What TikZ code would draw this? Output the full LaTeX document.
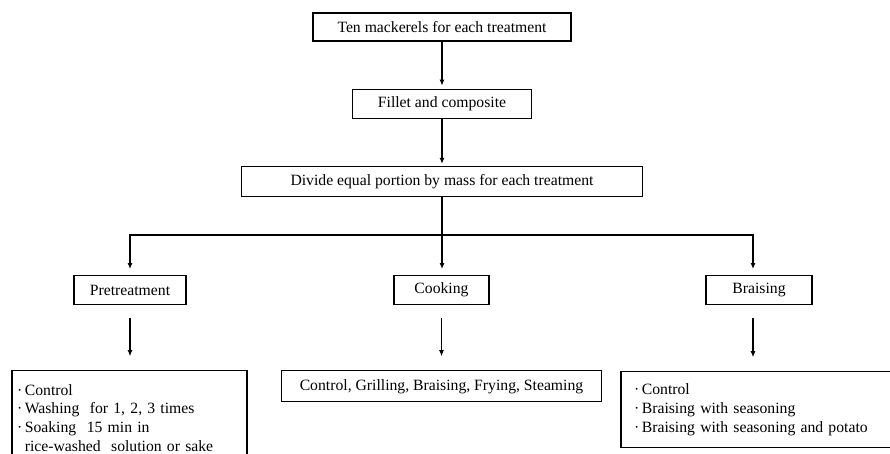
\documentclass[tikz,border=0pt]{standalone}
\usepackage{fontspec}
\setmainfont{Liberation Serif}
\usetikzlibrary{positioning,arrows.meta}

\tikzset{
	box/.style={draw, line width=1.2pt, inner sep=0pt, minimum height=29pt,
		font=\fontsize{15.7}{18.7}\selectfont},
	listbox/.style={box, align=left, inner ysep=0pt},
	arr/.style={line width=1.1pt, -{Latex[length=6pt,width=5pt]}},
	wire/.style={line width=1.1pt}
}

\begin{document}
\begin{tikzpicture}[x=1pt,y=1pt]
	\useasboundingbox (0,0) rectangle (890,-454);
	\clip (0,0) rectangle (890,-454);
	% Nodes
	% Preparation of the fish
	\node[box, minimum width=258pt, minimum height=28pt] (ten) at (442,-27) {Ten mackerels for each treatment};
	\node[box, minimum width=179pt, below=47pt of ten] (fillet) {Fillet and composite};
	\node[box, minimum width=401pt, minimum height=30pt, below=47pt of fillet] (divide) {Divide equal portion by mass for each treatment};
	% Branch point
	\coordinate[below=38pt of divide] (split);
	% Treatments
	\node[box, minimum width=112pt, below=78pt of divide, xshift=-312pt] (pre) {Pretreatment};
	\node[box, minimum width=95pt, below=78pt of divide, xshift=-0.5pt] (cook) {Cooking};
	\node[box, minimum width=106pt, below=78pt of divide, xshift=317pt] (brai) {Braising};
	
	% Details of each treatment
	\node[listbox, text width=225pt, inner xsep=5pt, minimum height=94pt, below=65pt of pre, xshift=-0.5pt] (pre-list) {%
		·\,Control\\
		·\,Washing\ \ for 1, 2, 3 times\\
		·\,Soaking\ \ 15 min in\\
		\phantom{·\,}rice-washed\ \ solution or sake};
	\node[box, minimum width=320pt, minimum height=31pt, below=65pt of cook] (cook-list) {Control, Grilling, Braising, Frying, Steaming};
	\node[listbox, text width=250pt, inner xsep=13pt, minimum height=76pt, below=66pt of brai] (brai-list) {%
		·\,Control\\
		·\,Braising with seasoning\\
		·\,Braising with seasoning and potato};
	
	% Edges
	% Preparation chain
	\draw[arr, shorten >=3pt] (ten.south) -- (ten.south |- fillet.north);
	\draw[arr, shorten >=2pt] (fillet.south) -- (fillet.south |- divide.north);
	% Split to the treatments
	\draw[wire] (divide.south) -- (split);
	\draw[arr, shorten >=6pt] (split) -| (pre.north);
	\draw[arr, shorten >=6pt] (split) -- (split |- cook.north);
	\draw[arr, shorten >=6pt] (split) -| ([xshift=-6pt]brai.north);
	% Treatments to their details
	\draw[arr, shorten <=13pt, shorten >=14pt] (pre.south) -- (pre.south |- pre-list.north);
	\draw[arr, shorten <=13pt, shorten >=14pt] (cook.south) -- (cook.south |- cook-list.north);
	\draw[arr, shorten <=13pt, shorten >=14pt] ([xshift=-6pt]brai.south) -- ([xshift=-6pt]brai.south |- brai-list.north);
\end{tikzpicture}
\end{document}
